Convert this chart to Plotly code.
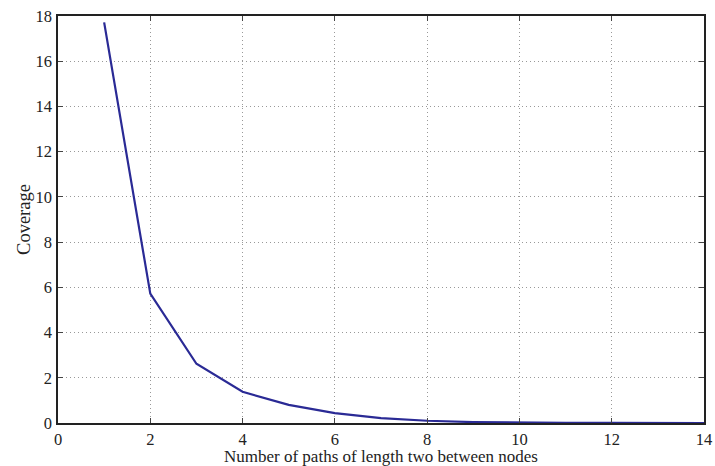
import plotly.graph_objects as go

x_vals = [1, 2, 3, 4, 5, 6, 7, 8, 9, 10, 11, 12, 13, 14]
coverage = [17.72, 5.72, 2.62, 1.38, 0.80, 0.44, 0.22, 0.10, 0.04, 0.015, 0.006, 0.003, 0.001, 0.0005]
x_ticks = [0, 2, 4, 6, 8, 10, 12, 14]
y_ticks = [0, 2, 4, 6, 8, 10, 12, 14, 16, 18]
x_title = "Number of paths of length two between nodes"
y_title = "Coverage"

fig = go.Figure()
fig.add_trace(go.Scatter(x=x_vals, y=coverage, mode="lines",
                         line=dict(color="#2a2a95", width=2.2)))

fam = "Liberation Serif, Times New Roman, serif"
font = dict(family=fam, size=16.5, color="#222")
axis_common = dict(showline=True, linecolor="#222", linewidth=1.5, mirror="ticks",
                   ticks="inside", ticklen=5, tickcolor="#444", tickwidth=1,
                   showgrid=True, gridcolor="#999999", griddash="1px,3px", gridwidth=1,
                   zeroline=False, tickfont=font, automargin=False)

fig.update_layout(
    width=715, height=466,
    margin=dict(l=58, r=11, t=16, b=43),
    paper_bgcolor="white", plot_bgcolor="white",
    showlegend=False,
    font=font,
    xaxis=dict(range=[0, 14], tickvals=x_ticks, ticklabelstandoff=0, **axis_common),
    yaxis=dict(range=[0, 18], tickvals=y_ticks, ticklabelstandoff=1,
               title=dict(text=y_title,
                          font=dict(family=fam, size=18.5, color="#222"),
                          standoff=0),
               **axis_common),
    annotations=[dict(text=x_title, xref="paper", yref="paper", x=0.5, y=0,
                      xanchor="center", yanchor="bottom", yshift=-44,
                      showarrow=False, borderpad=0,
                      font=dict(family=fam, size=17, color="#222"))],
)
fig.write_html("out.html", config={"displayModeBar": False},
               post_script="document.body.style.margin='0';")
